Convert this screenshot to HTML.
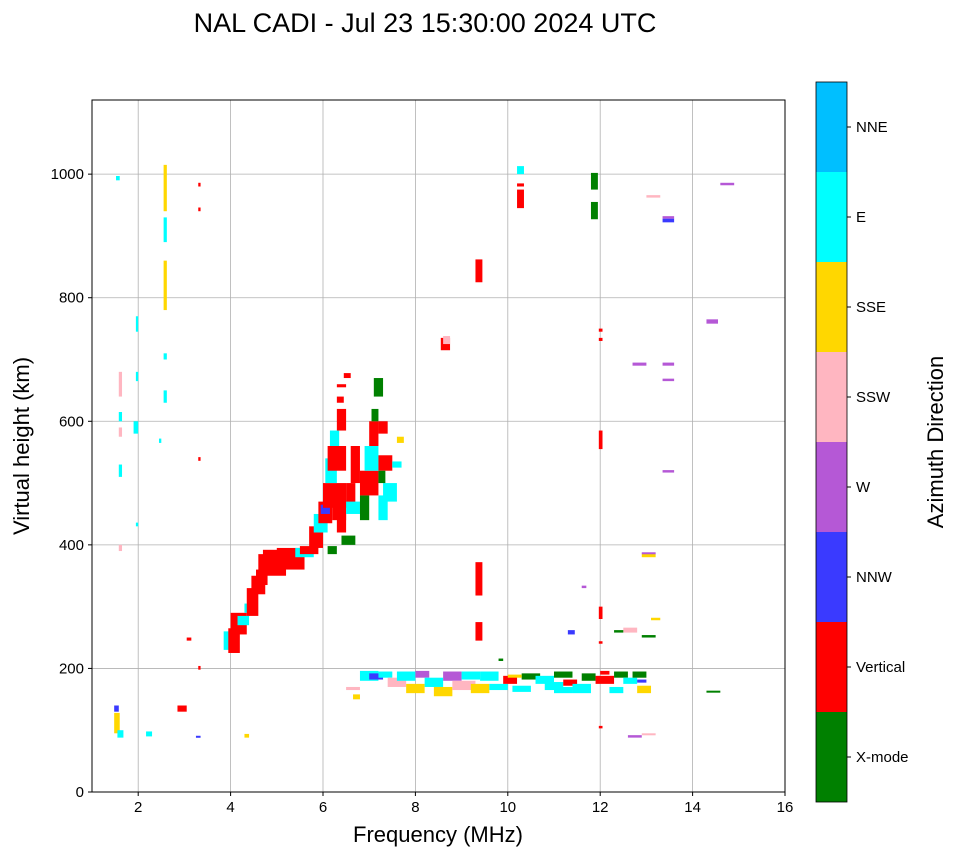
<!DOCTYPE html>
<html><head><meta charset="utf-8"><style>
html,body{margin:0;padding:0;background:#fff;}
svg{display:block;font-family:"Liberation Sans",sans-serif;}
</style></head><body>
<svg id="chart" width="958" height="857" viewBox="0 0 958 857">
<text x="425" y="32" text-anchor="middle" font-size="27">NAL CADI - Jul 23 15:30:00 2024 UTC</text>
<g id="grid"></g>
<g id="marks"></g>
<rect x="92" y="100" width="693" height="692" fill="none" stroke="#000" stroke-width="1"/>
<g id="axes"></g>
<text x="438" y="842" text-anchor="middle" font-size="22">Frequency (MHz)</text>
<text transform="translate(29,446) rotate(-90)" text-anchor="middle" font-size="22">Virtual height (km)</text>
<g id="cbar"></g>
<text transform="translate(943,442) rotate(-90)" text-anchor="middle" font-size="22">Azimuth Direction</text>
</svg>
<script>
const dirNames=["X-mode","Vertical","NNW","W","SSW","SSE","E","NNE"];
const dirColors=["#008000","#ff0000","#3a3aff","#b558d6","#ffb6c1","#ffd700","#00ffff","#00bfff"];
const xTicks=[2,4,6,8,10,12,14,16];
const yTicks=[0,200,400,600,800,1000];
// echo blocks, one row each: [freq start MHz, freq end MHz, height bottom km, height top km, direction index]
const echoRows=[
[1.48,1.58,130,140,2],[1.48,1.6,95,128,5],[1.55,1.68,88,100,6],[1.58,1.65,640,680,4],[1.58,1.65,600,615,6],
[1.58,1.65,575,590,4],[1.58,1.65,510,530,6],[1.58,1.65,390,400,4],[1.52,1.6,990,997,6],[1.95,2.0,430,436,6],
[1.9,2.0,580,600,6],[1.95,2.0,745,770,6],[1.95,2.0,665,680,6],[2.17,2.3,90,98,6],[2.55,2.62,940,1015,5],
[2.55,2.62,890,930,6],[2.55,2.62,780,860,5],[2.55,2.62,700,710,6],[2.55,2.62,630,650,6],[3.3,3.35,980,986,1],
[3.3,3.35,940,946,1],[2.45,2.5,565,572,6],[3.3,3.35,536,542,1],[3.05,3.15,245,250,1],[3.3,3.35,198,204,1],
[2.85,3.05,130,140,1],[4.3,4.4,88,94,5],
[3.85,4.0,230,260,6],[3.95,4.2,225,265,1],[4.0,4.35,255,290,1],[4.15,4.4,270,285,6],[4.3,4.5,290,305,6],
[4.35,4.6,285,330,1],[4.45,4.75,320,350,1],[4.55,4.8,335,360,1],[4.6,5.2,350,385,1],[4.7,5.1,375,392,1],
[5.0,5.6,360,395,1],[5.4,5.8,380,395,6],[5.5,5.9,385,398,1],[5.7,6.0,395,430,1],[5.8,6.1,420,450,6],
[5.9,6.2,435,470,1],[5.95,6.15,450,465,2],[6.0,6.5,460,500,1],[6.05,6.3,500,540,6],[6.1,6.5,520,560,1],
[6.15,6.35,560,585,6],[6.3,6.5,585,620,1],[6.3,6.45,630,640,1],[6.3,6.5,655,660,1],[6.45,6.6,670,678,1],
[6.2,6.5,440,470,1],[6.4,6.7,400,415,0],[6.1,6.3,385,398,0],[6.3,6.5,420,450,1],[6.5,6.7,460,500,1],
[6.5,6.8,450,470,6],[6.6,6.8,500,560,1],[6.8,7.0,440,480,0],[6.8,7.2,480,520,1],[6.9,7.2,520,560,6],
[7.0,7.2,560,600,1],[7.05,7.2,600,620,0],[7.1,7.3,640,670,0],[7.2,7.4,440,480,6],[7.3,7.6,470,500,6],
[7.2,7.5,520,545,1],[7.6,7.75,565,575,5],[7.5,7.7,525,535,6],[7.2,7.4,580,600,1],[7.2,7.35,500,520,0],
[6.5,6.8,165,170,4],[6.65,6.8,150,158,5],[6.8,7.2,180,196,6],[7.0,7.3,182,192,2],[7.2,7.5,185,195,6],
[7.4,7.8,170,185,4],[7.6,8.0,180,195,6],[7.8,8.2,160,175,5],[8.0,8.3,185,196,3],[8.2,8.6,170,185,6],
[8.4,8.8,155,170,5],[8.6,9.0,180,195,3],[8.8,9.3,165,180,4],[9.0,9.4,182,195,6],[9.2,9.6,160,175,5],
[9.4,9.8,180,195,6],[9.6,10.0,165,175,6],[9.9,10.2,175,188,1],[10.1,10.5,162,172,6],[10.3,10.7,182,192,0],
[10.6,11.0,175,188,6],[10.8,11.2,165,178,6],[11.0,11.4,185,195,0],[11.2,11.5,172,182,1],[11.4,11.8,160,175,6],
[11.6,11.9,180,192,0],[11.9,12.3,175,188,1],[12.0,12.2,190,196,1],[12.2,12.5,160,170,6],[12.3,12.6,185,195,0],
[12.5,12.8,175,185,6],[12.7,13.0,185,195,0],[12.8,13.1,160,172,5],[12.8,13.0,177,182,2],[10.0,10.3,185,190,5],
[11.0,11.4,160,170,6],
[9.3,9.45,825,862,1],[9.3,9.45,318,372,1],[9.3,9.45,245,275,1],[9.8,9.9,212,216,0],[8.55,8.75,715,735,1],
[8.6,8.75,725,738,4],[10.2,10.35,1000,1013,6],[10.2,10.35,945,975,1],[10.2,10.35,980,985,1],[11.8,11.95,927,955,0],
[11.8,11.95,975,1002,0],[11.97,12.05,745,750,1],[11.97,12.05,730,735,1],[11.97,12.05,555,585,1],[11.97,12.05,280,300,1],
[11.97,12.05,240,244,1],[11.97,12.05,103,107,1],[12.7,13.0,690,695,3],[13.35,13.6,690,695,3],[13.35,13.6,665,669,3],
[13.35,13.6,517,521,3],[13.35,13.6,922,928,2],[13.35,13.6,928,932,3],[13.0,13.3,962,966,4],[14.3,14.55,758,765,3],
[14.6,14.9,982,986,3],[12.9,13.2,380,386,5],[12.9,13.2,386,388,3],[12.5,12.8,258,266,4],[12.3,12.5,258,262,0],
[12.9,13.2,250,254,0],[13.1,13.3,278,282,5],[11.3,11.45,255,262,2],[11.6,11.7,330,334,3],[12.6,12.9,88,92,3],
[12.9,13.2,92,95,4],[14.3,14.6,161,164,0],[3.25,3.35,88,91,2]
];
const freqStart=echoRows.map(r=>r[0]);
const freqEnd=echoRows.map(r=>r[1]);
const hBottom=echoRows.map(r=>r[2]);
const hTop=echoRows.map(r=>r[3]);
const dirs=echoRows.map(r=>r[4]);

const NS="http://www.w3.org/2000/svg";
const X0=92,X1=785,Y0=792,Y1=100;
const xs=f=>X0+(f-1)/(16-1)*(X1-X0);
const ys=h=>Y0-h/1120*(Y0-Y1);
function mk(tag,attrs,parent){const e=document.createElementNS(NS,tag);for(const k in attrs)e.setAttribute(k,attrs[k]);parent.appendChild(e);return e;}
const grid=document.getElementById('grid'),axes=document.getElementById('axes'),marks=document.getElementById('marks'),cbar=document.getElementById('cbar');
xTicks.forEach(t=>{const x=xs(t);
 const g=mk('line',{x1:x,x2:x,y1:Y1,y2:Y0,stroke:'#b0b0b0','stroke-width':0.8},grid);
 
 
 mk('line',{x1:x,x2:x,y1:Y0,y2:Y0+4,stroke:'#000'},axes);
 const tx=mk('text',{x:x,y:Y0+20,'text-anchor':'middle','font-size':15},axes);tx.textContent=t;
 
 });
yTicks.forEach(t=>{const y=ys(t);
 const g=mk('line',{x1:X0,x2:X1,y1:y,y2:y,stroke:'#b0b0b0','stroke-width':0.8},grid);
 
 
 mk('line',{x1:X0-4,x2:X0,y1:y,y2:y,stroke:'#000'},axes);
 const tx=mk('text',{x:X0-8,y:y+5,'text-anchor':'end','font-size':15},axes);tx.textContent=t;
 
 });
for(let i=0;i<echoRows.length;i++){
 const x=xs(freqStart[i]),w=Math.max(2,xs(freqEnd[i])-x),yt=ys(hTop[i]),hh=Math.max(2,ys(hBottom[i])-yt);
 const r=mk('rect',{x:x,y:yt,width:w,height:hh,fill:dirColors[dirs[i]]},marks);
 
 
}
const CB0=82,CBH=90;
dirNames.forEach((n,i)=>{const y=CB0+(7-i)*CBH;
 const r=mk('rect',{x:816,y:y,width:31,height:CBH,fill:dirColors[i]},cbar);
 
 
 mk('line',{x1:847,x2:851,y1:y+CBH/2,y2:y+CBH/2,stroke:'#000'},cbar);
 const tx=mk('text',{x:856,y:y+CBH/2+5,'font-size':15},cbar);tx.textContent=n;
 
 });
mk('rect',{x:816,y:CB0,width:31,height:CBH*8,fill:'none',stroke:'#000','stroke-width':0.8},cbar);
</script>
</body></html>
